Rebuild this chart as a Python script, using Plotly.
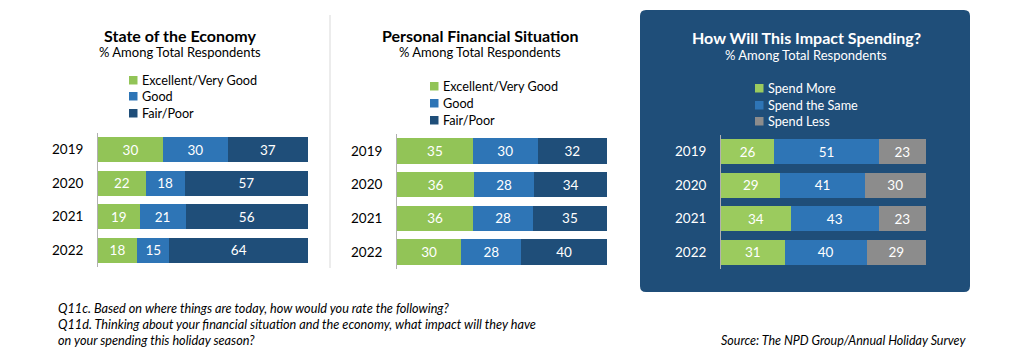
import plotly.graph_objects as go

# ---------------- data ----------------
years = ["2019", "2020", "2021", "2022"]

rating_labels = ["Excellent/Very Good", "Good", "Fair/Poor"]
econ_excellent = [30, 22, 19, 18]
econ_good = [30, 18, 21, 15]
econ_fair = [37, 57, 56, 64]

fin_excellent = [35, 36, 36, 30]
fin_good = [30, 28, 28, 28]
fin_fair = [32, 34, 35, 40]

spend_labels = ["Spend More", "Spend the Same", "Spend Less"]
spend_more = [26, 29, 34, 31]
spend_same = [51, 41, 43, 40]
spend_less = [23, 30, 23, 29]

panel_titles = ["State of the Economy", "Personal Financial Situation", "How Will This Impact Spending?"]
panel_subtitle = "% Among Total Respondents"
footnote_lines = [
    "Q11c. Based on where things are today, how would you rate the following?",
    "Q11d. Thinking about your financial situation and the economy, what impact will they have",
    "on your spending this holiday season?",
]
source_text = "Source: The NPD Group/Annual Holiday Survey"

# ---------------- styling ----------------
OFF = 8  # page body margin
W, H = 1024 - OFF, 355 - OFF
FONT = "Lato"
GREEN = "#92C457"
GREEN3 = "#9BCB5E"
BLUE = "#2E75B6"
DARK = "#1F4E79"
GRAY = "#8C8C8C"
BOX = "#1F4E79"


def px(x):
    return (x - OFF) / W


def py(y):
    return 1 - (y - OFF) / H


fig = go.Figure()

panels = [
    dict(ax="", series=[econ_excellent, econ_good, econ_fair], names=rating_labels,
         colors=[GREEN, BLUE, DARK], xdom=(98, 308), ydom=(133, 267), tick="black"),
    dict(ax="2", series=[fin_excellent, fin_good, fin_fair], names=rating_labels,
         colors=[GREEN, BLUE, DARK], xdom=(397, 607), ydom=(134, 269), tick="black"),
    dict(ax="3", series=[spend_more, spend_same, spend_less], names=spend_labels,
         colors=[GREEN3, BLUE, GRAY], xdom=(721, 926), ydom=(135, 269), tick="white"),
]

layout_axes = {}
for p in panels:
    for vals, name, col in zip(p["series"], p["names"], p["colors"]):
        fig.add_trace(go.Bar(
            x=vals, y=years, orientation="h", name=name,
            xaxis="x" + p["ax"], yaxis="y" + p["ax"],
            marker=dict(color=col, line=dict(width=0)),
            text=vals, texttemplate="%{text}", textposition="inside",
            insidetextanchor="middle", textangle=0,
            textfont=dict(family=FONT, size=13.5, color="white"),
            showlegend=False,
            hovertemplate=name + " %{y}: %{text}<extra></extra>",
        ))
    layout_axes["xaxis" + p["ax"]] = dict(
        domain=[px(p["xdom"][0]), px(p["xdom"][1])], range=[0, 100],
        visible=False, fixedrange=True,
        anchor="y" + p["ax"],
    )
    layout_axes["yaxis" + p["ax"]] = dict(
        domain=[py(p["ydom"][1]), py(p["ydom"][0])],
        autorange="reversed", type="category",
        showline=True, linecolor="#B0B0B0", linewidth=1,
        showgrid=False, zeroline=False, ticks="",
        ticklabelstandoff=11,
        tickfont=dict(family=FONT, size=13.5, color=p["tick"]),
        anchor="x" + p["ax"],
    )

shapes = []
annotations = []

# rounded box for third panel
x0, x1, y0, y1, r = 640, 970, 10, 292, 6
path = (f"M {px(x0 + r)},{py(y0)} L {px(x1 - r)},{py(y0)} Q {px(x1)},{py(y0)} {px(x1)},{py(y0 + r)} "
        f"L {px(x1)},{py(y1 - r)} Q {px(x1)},{py(y1)} {px(x1 - r)},{py(y1)} "
        f"L {px(x0 + r)},{py(y1)} Q {px(x0)},{py(y1)} {px(x0)},{py(y1 - r)} "
        f"L {px(x0)},{py(y0 + r)} Q {px(x0)},{py(y0)} {px(x0 + r)},{py(y0)} Z")
shapes.append(dict(type="path", xref="paper", yref="paper", path=path,
                   fillcolor=BOX, line=dict(width=0), layer="below"))

# separator line
shapes.append(dict(type="line", xref="paper", yref="paper",
                   x0=px(330), x1=px(330), y0=py(15), y1=py(268),
                   line=dict(color="#D9D9D9", width=1)))

# titles
title_pos = [(180, 35, 52, "black"), (480, 35, 52, "black"), (806, 38, 55, "white")]
for t, (cx, ty, sy, col) in zip(panel_titles, title_pos):
    annotations.append(dict(xref="paper", yref="paper", x=px(cx), y=py(ty), text="<b>" + t + "</b>",
                            showarrow=False, xanchor="center", yanchor="middle",
                            font=dict(family=FONT, size=16, color=col)))
    annotations.append(dict(xref="paper", yref="paper", x=px(cx), y=py(sy), text=panel_subtitle,
                            showarrow=False, xanchor="center", yanchor="middle",
                            font=dict(family=FONT, size=13, color=col)))

# legends
legend_pos = [(129, [80, 96, 113], "black"), (430, [86, 103, 120], "black"), (755, [88, 105, 121], "white")]
for p, (lx, lys, col) in zip(panels, legend_pos):
    for name, c, ly in zip(p["names"], p["colors"], lys):
        shapes.append(dict(type="rect", xref="paper", yref="paper",
                           x0=px(lx), x1=px(lx + 8.5), y0=py(ly + 4.5), y1=py(ly - 4),
                           fillcolor=c, line=dict(width=0)))
        annotations.append(dict(xref="paper", yref="paper", x=px(lx + 11), y=py(ly), text=name,
                                showarrow=False, xanchor="left", yanchor="middle",
                                font=dict(family=FONT, size=12.7, color=col)))

# footnotes
for i, line in enumerate(footnote_lines):
    annotations.append(dict(xref="paper", yref="paper", x=px(56), y=py(308 + 16 * i), text="<i>" + line + "</i>",
                            showarrow=False, xanchor="left", yanchor="middle",
                            font=dict(family=FONT, size=12.7, color="black")))
annotations.append(dict(xref="paper", yref="paper", x=px(968), y=py(340), text="<i>" + source_text + "</i>",
                        showarrow=False, xanchor="right", yanchor="middle",
                        font=dict(family=FONT, size=12.5, color="black")))

fig.update_layout(
    width=W, height=H, margin=dict(l=0, r=0, t=0, b=0),
    paper_bgcolor="white", plot_bgcolor="rgba(0,0,0,0)",
    barmode="stack", barnorm="percent", bargap=0.24,
    showlegend=False,
    shapes=shapes, annotations=annotations,
    font=dict(family=FONT),
    **layout_axes,
)

fig.write_html("out.html")
